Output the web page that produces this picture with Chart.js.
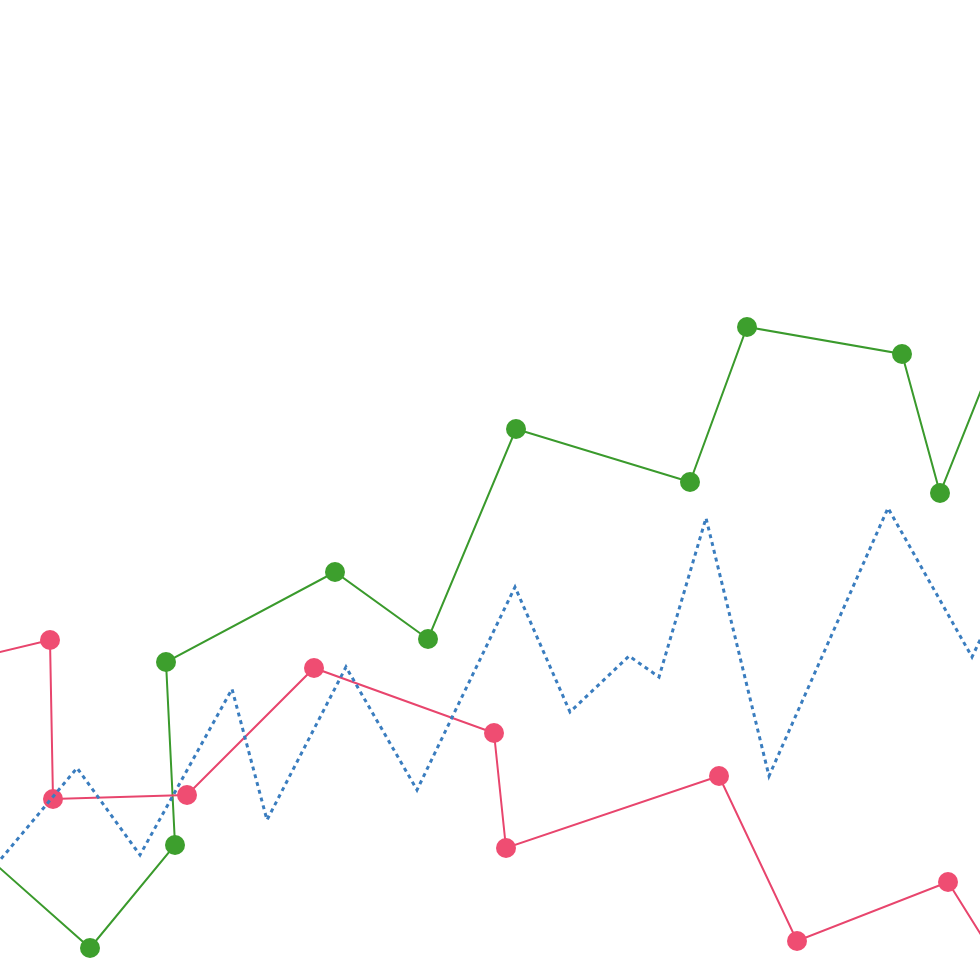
<!DOCTYPE html>
<html>
<head>
<meta charset="utf-8">
<script src="https://cdn.jsdelivr.net/npm/chart.js@4/dist/chart.umd.min.js"></script>
<style>
  html, body { margin: 0; padding: 0; background: #ffffff; }
  #wrap { width: 980px; height: 980px; position: relative; }
</style>
</head>
<body>
<div id="wrap"><canvas id="c"></canvas></div>
<script>
// Series values (x, y); first/last points lie just outside the view
const greenX = [-5.0, 9.0, 17.5, 16.6, 33.5, 42.8, 51.6, 69.0, 74.7, 90.2, 94.0, 100.0];
const greenY = [15.6, 3.2, 13.5, 31.8, 40.8, 34.1, 55.1, 49.8, 65.3, 62.6, 48.7, 63.7];

const pinkX = [-10.0, 5.0, 5.3, 18.7, 31.4, 49.4, 50.6, 71.9, 79.7, 94.8, 100.0];
const pinkY = [30.4, 34.0, 18.1, 18.5, 31.2, 24.7, 13.2, 20.4, 3.9, 9.8, 1.5];

const blueX = [-4.0, 7.7, 14.0, 23.2, 26.7, 34.6, 41.7, 51.5, 57.0, 62.9, 65.9, 70.6, 76.9, 88.8, 97.2, 101.0];
const blueY = [7.2, 21.2, 12.5, 29.1, 16.0, 31.3, 19.0, 39.3, 26.8, 32.4, 30.3, 46.2, 20.4, 47.2, 32.3, 40.3];

const xRange = [0, 98];
const yRange = [0, 98];

function pts(xs, ys) { return xs.map((x, i) => ({ x: x, y: ys[i] })); }

new Chart(document.getElementById('c'), {
  type: 'line',
  data: {
    datasets: [
      {
        data: pts(blueX, blueY),
        borderColor: '#3a7dbf',
        borderWidth: 3,
        borderDash: [4, 4],
        pointRadius: 0,
        fill: false,
        tension: 0
      },
      {
        data: pts(pinkX, pinkY),
        borderColor: '#e8456d',
        backgroundColor: '#ef4d72',
        borderWidth: 2,
        pointRadius: 10,
        pointBorderWidth: 0,
        pointBackgroundColor: '#ef4d72',
        fill: false,
        tension: 0
      },
      {
        data: pts(greenX, greenY),
        borderColor: '#3a9a2c',
        backgroundColor: '#3d9f2d',
        borderWidth: 2,
        pointRadius: 10,
        pointBorderWidth: 0,
        pointBackgroundColor: '#3d9f2d',
        fill: false,
        tension: 0
      }
    ]
  },
  options: {
    responsive: true,
    maintainAspectRatio: false,
    animation: false,
    layout: { padding: 0, autoPadding: false },
    plugins: { legend: { display: false }, tooltip: { enabled: false } },
    scales: {
      x: { type: 'linear', min: xRange[0], max: xRange[1], display: false },
      y: { type: 'linear', min: yRange[0], max: yRange[1], display: false }
    }
  }
});
</script>
</body>
</html>
